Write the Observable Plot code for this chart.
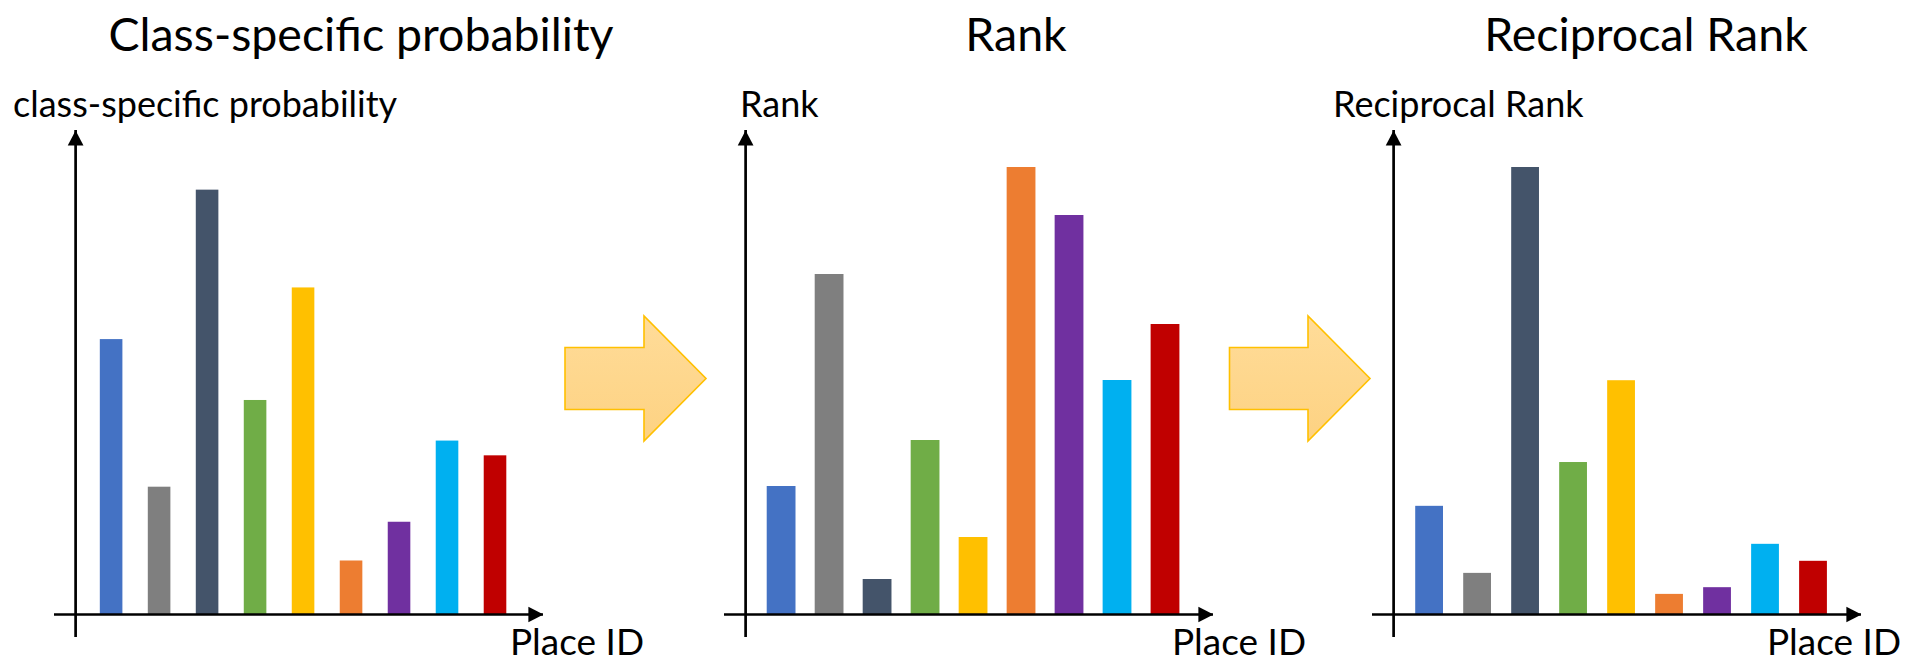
<!DOCTYPE html>
<html>
<head>
<meta charset="utf-8">
<script src="https://cdn.jsdelivr.net/npm/d3@7"></script>
<script src="https://cdn.jsdelivr.net/npm/@observablehq/plot@0.6"></script>
<style>
  html, body { margin: 0; padding: 0; background: #fff; }
  #page { position: relative; width: 1905px; height: 663px; overflow: hidden; font-family: Lato, "Open Sans", sans-serif; }
  .panel { position: absolute; top: 130px; }
  .panel svg { display: block; max-width: none; }
  #overlay { position: absolute; left: 0; top: 0; pointer-events: none; }
  #overlay text { font-family: Lato, "Open Sans", sans-serif; fill: #000; }
</style>
</head>
<body>
<div id="page"></div>
<script>
// Nine places, each with its own colour
const places = ["1", "2", "3", "4", "5", "6", "7", "8", "9"];

// Class-specific probability per place (sums to 1)
const probability = [0.149, 0.069, 0.230, 0.116, 0.177, 0.029, 0.050, 0.094, 0.086];

// Rank per place (bar heights as drawn)
const rank = [2.56, 6.80, 0.70, 3.48, 1.54, 8.94, 7.98, 4.68, 5.80];

// Reciprocal rank per place
const reciprocalRank = [0.242, 0.092, 1.000, 0.340, 0.523, 0.045, 0.060, 0.157, 0.119];

const panelTitles = ["Class-specific probability", "Rank", "Reciprocal Rank"];
const yLabels = ["class-specific probability", "Rank", "Reciprocal Rank"];
const xLabel = "Place ID";

const palette = ["#4472C4", "#7F7F7F", "#44546A", "#70AD47", "#FFC000", "#ED7D31", "#7030A0", "#00B0F0", "#C00000"];

// Filled arrowheads with the tip at the anchor point
const arrowUp = {
  draw(ctx, size) {
    const s = Math.sqrt(size);
    ctx.moveTo(0, 0);
    ctx.lineTo(0.74 * s, 1.42 * s);
    ctx.lineTo(-0.74 * s, 1.42 * s);
    ctx.closePath();
  }
};
const arrowRight = {
  draw(ctx, size) {
    const s = Math.sqrt(size);
    ctx.moveTo(0, 0);
    ctx.lineTo(-1.42 * s, -0.74 * s);
    ctx.lineTo(-1.42 * s, 0.74 * s);
    ctx.closePath();
  }
};

const page = document.getElementById("page");

const W = 489, H = 507;           // panel size
const xDomain = [0.31, 10.5];     // y axis sits at 0.75
const yAxisAt = 0.75;
const below = 23;                 // px the y axis runs below the baseline
const above = 484;                // px from baseline to arrow tip

function panel(values, left, pxPerUnit, inset) {
  const data = places.map((p, i) => ({place: p, index: i + 1, value: values[i]}));
  const yDomain = [-below / pxPerUnit, above / pxPerUnit];
  const chart = Plot.plot({
    width: W,
    height: H,
    margin: 0,
    x: {domain: xDomain, axis: null},
    y: {domain: yDomain, axis: null},
    color: {domain: places, range: palette},
    marks: [
      Plot.rectY(data, {x: "index", y: "value", interval: 1, fill: "place", insetLeft: inset, insetRight: inset}),
      Plot.ruleY([0], {stroke: "#000", strokeWidth: 2.7}),
      Plot.ruleX([yAxisAt], {stroke: "#000", strokeWidth: 2.7}),
      Plot.dot([{x: yAxisAt, y: yDomain[1]}], {x: "x", y: "y", symbol: arrowUp, r: 6, fill: "#000", stroke: "none"}),
      Plot.dot([{x: xDomain[1], y: 0}], {x: "x", y: "y", symbol: arrowRight, r: 6, fill: "#000", stroke: "none"})
    ]
  });
  const wrap = document.createElement("div");
  wrap.className = "panel";
  wrap.style.left = left + "px";
  wrap.appendChild(chart);
  page.appendChild(wrap);
}

panel(probability, 54, 1845, 12.7);
panel(rank, 724, 50, 9.6);
panel(reciprocalRank, 1372, 447, 10.1);

// Titles, axis labels and the block arrows between the panels
const overlay = d3.select(page).append("svg")
  .attr("id", "overlay")
  .attr("width", 1905)
  .attr("height", 663);

const defs = overlay.append("defs");
const grad = defs.append("linearGradient")
  .attr("id", "arrowFill").attr("x1", 0).attr("y1", 0).attr("x2", 0).attr("y2", 1);
grad.append("stop").attr("offset", "0%").attr("stop-color", "#FFDC99");
grad.append("stop").attr("offset", "100%").attr("stop-color", "#FDD282");

const titleX = [361, 1016, 1646];
overlay.selectAll("text.title").data(panelTitles).join("text")
  .attr("class", "title")
  .attr("x", (d, i) => titleX[i])
  .attr("y", 51)
  .attr("text-anchor", "middle")
  .style("font-size", "46.5px")
  .text(d => d);

const yLabelX = [13, 740, 1333];
overlay.selectAll("text.ylabel").data(yLabels).join("text")
  .attr("class", "ylabel")
  .attr("x", (d, i) => yLabelX[i])
  .attr("y", 117)
  .style("font-size", "36px")
  .text(d => d);

const xLabelPos = [[510, 655], [1172, 655], [1767, 655]];
overlay.selectAll("text.xlabel").data(xLabelPos).join("text")
  .attr("class", "xlabel")
  .attr("x", d => d[0])
  .attr("y", d => d[1])
  .style("font-size", "37px")
  .text(xLabel);

const blockArrow = (x0, xb, xt) =>
  `M${x0},347.5H${xb}V316L${xt},378.5L${xb},441V409.5H${x0}Z`;
overlay.selectAll("path.flow").data([[565, 644, 706], [1229.5, 1308, 1370]]).join("path")
  .attr("class", "flow")
  .attr("d", d => blockArrow(...d))
  .attr("fill", "url(#arrowFill)")
  .attr("stroke", "#FFC000")
  .attr("stroke-width", 1.6);
</script>
</body>
</html>
